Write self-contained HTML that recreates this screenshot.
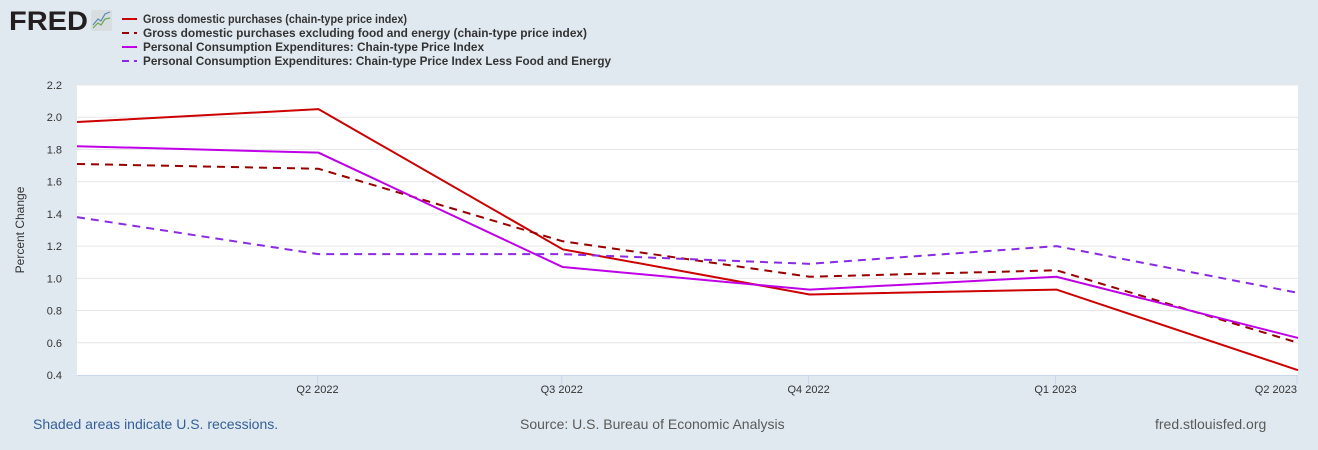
<!DOCTYPE html>
<html><head><meta charset="utf-8"><style>
body{margin:0;background:#e1e9f0;font-family:"Liberation Sans",sans-serif;}
#wrap{position:relative;width:1318px;height:450px;overflow:hidden;background:#e1e9f0;}
svg text{font-family:"Liberation Sans",sans-serif;}
</style></head><body>
<div id="wrap">
<svg id="chart" width="1318" height="450">
<g>
<text x="9" y="30" font-size="27" font-weight="bold" fill="#231f20" textLength="79" lengthAdjust="spacingAndGlyphs">FRED</text>
<rect x="91" y="10" width="21" height="21" rx="2" fill="#d8dde2"/>
<polyline points="93,25 98,19 101,21 105,14 110,12" fill="none" stroke="#5a8ab5" stroke-width="1.2"/>
<polyline points="93,28 98,23 101,25 105,19 110,18" fill="none" stroke="#6aa84f" stroke-width="1.2"/>
</g>
<g id="legend"></g>
<g id="grid"></g>
<g id="series"></g>
<text x="24" y="230" font-size="12" fill="#333" transform="rotate(-90 24 230)" text-anchor="middle">Percent Change</text>
<text x="33" y="429" font-size="14" fill="#335e99">Shaded areas indicate U.S. recessions.</text>
<text x="520" y="429" font-size="14" fill="#595959">Source: U.S. Bureau of Economic Analysis</text>
<text x="1155" y="429" font-size="14" fill="#595959">fred.stlouisfed.org</text>
</svg>
</div>
<script>
const dates=["2022-01-01","2022-04-01","2022-07-01","2022-10-01","2023-01-01","2023-04-01"];
const xTickLabels=["Q2 2022","Q3 2022","Q4 2022","Q1 2023","Q2 2023"];
const yTicks=[0.4,0.6,0.8,1.0,1.2,1.4,1.6,1.8,2.0,2.2];
const grossDomestic=[1.97,2.05,1.18,0.90,0.93,0.43];
const grossDomesticCore=[1.71,1.68,1.23,1.01,1.05,0.60];
const pce=[1.82,1.78,1.07,0.93,1.01,0.63];
const pceCore=[1.38,1.15,1.15,1.09,1.20,0.91];
const seriesNames=["Gross domestic purchases (chain-type price index)","Gross domestic purchases excluding food and energy (chain-type price index)","Personal Consumption Expenditures: Chain-type Price Index","Personal Consumption Expenditures: Chain-type Price Index Less Food and Energy"];

const NS="http://www.w3.org/2000/svg";
const L=77,R=1298,T=85,B=375,ymin=0.4,ymax=2.2;
const t0=Date.parse(dates[0]),t1=Date.parse(dates[dates.length-1]);
const xs=d=>L+(Date.parse(d)-t0)/(t1-t0)*(R-L);
const ys=v=>B-(v-ymin)/(ymax-ymin)*(B-T);
function mk(tag,attrs,parent){const e=document.createElementNS(NS,tag);for(const k in attrs)e.setAttribute(k,attrs[k]);parent.appendChild(e);return e;}
const grid=document.getElementById('grid');
const bg=mk('rect',{x:L,y:T,width:R-L,height:B-T,fill:'#fff'},grid);


yTicks.forEach(v=>{
  const y=ys(v);
  if(v>ymin){const g=mk('line',{x1:L,x2:R,y1:y,y2:y,stroke:'#e6e6e6','stroke-width':1},grid);
  
  }
  const t=mk('text',{x:62,y:y+4,'font-size':11,fill:'#333','text-anchor':'end'},grid);
  t.textContent=v.toFixed(1);
  
  
});
const ax=mk('line',{x1:L,x2:R,y1:B+0.5,y2:B+0.5,stroke:'#ccd6eb','stroke-width':1},grid);


xTickLabels.forEach((lab,i)=>{
  const x=xs(dates[i+1])-1;
  mk('line',{x1:x,x2:x,y1:B,y2:B+9,stroke:'#ccd6eb'},grid);
  const t=mk('text',{x:x,y:393,'font-size':11,fill:'#333','text-anchor':i===xTickLabels.length-1?'end':'middle'},grid);
  t.textContent=lab;
  
  
});
const styles=[{c:'#cc0000',d:null,n:'series-gross-domestic'},{c:'#990000',d:'8,6',n:'series-gross-domestic-core'},{c:'#bf00e6',d:null,n:'series-pce'},{c:'#8a2be2',d:'8,6',n:'series-pce-core'}];
const data=[grossDomestic,grossDomesticCore,pce,pceCore];
const sg=document.getElementById('series');
data.forEach((arr,i)=>{
  const pts=arr.map((v,j)=>xs(dates[j])+','+ys(v)).join(' ');
  const a={points:pts,fill:'none',stroke:styles[i].c,'stroke-width':2};
  if(styles[i].d)a['stroke-dasharray']=styles[i].d;
  const p=mk('polyline',a,sg);
  
  
});
const legendWidths=[264,444,341,468];
const lg=document.getElementById('legend');
seriesNames.forEach((n,i)=>{
  const y=19+i*14;
  const a={x1:122,x2:137,y1:y,y2:y,stroke:styles[i].c,'stroke-width':2};
  if(styles[i].d)a['stroke-dasharray']='7,5';
  mk('line',a,lg);
  const t=mk('text',{x:143,y:y+4,'font-size':12,'font-weight':'bold',fill:'#333',textLength:legendWidths[i],lengthAdjust:'spacingAndGlyphs'},lg);
  t.textContent=n;
  
  
});
</script>
</body></html>
